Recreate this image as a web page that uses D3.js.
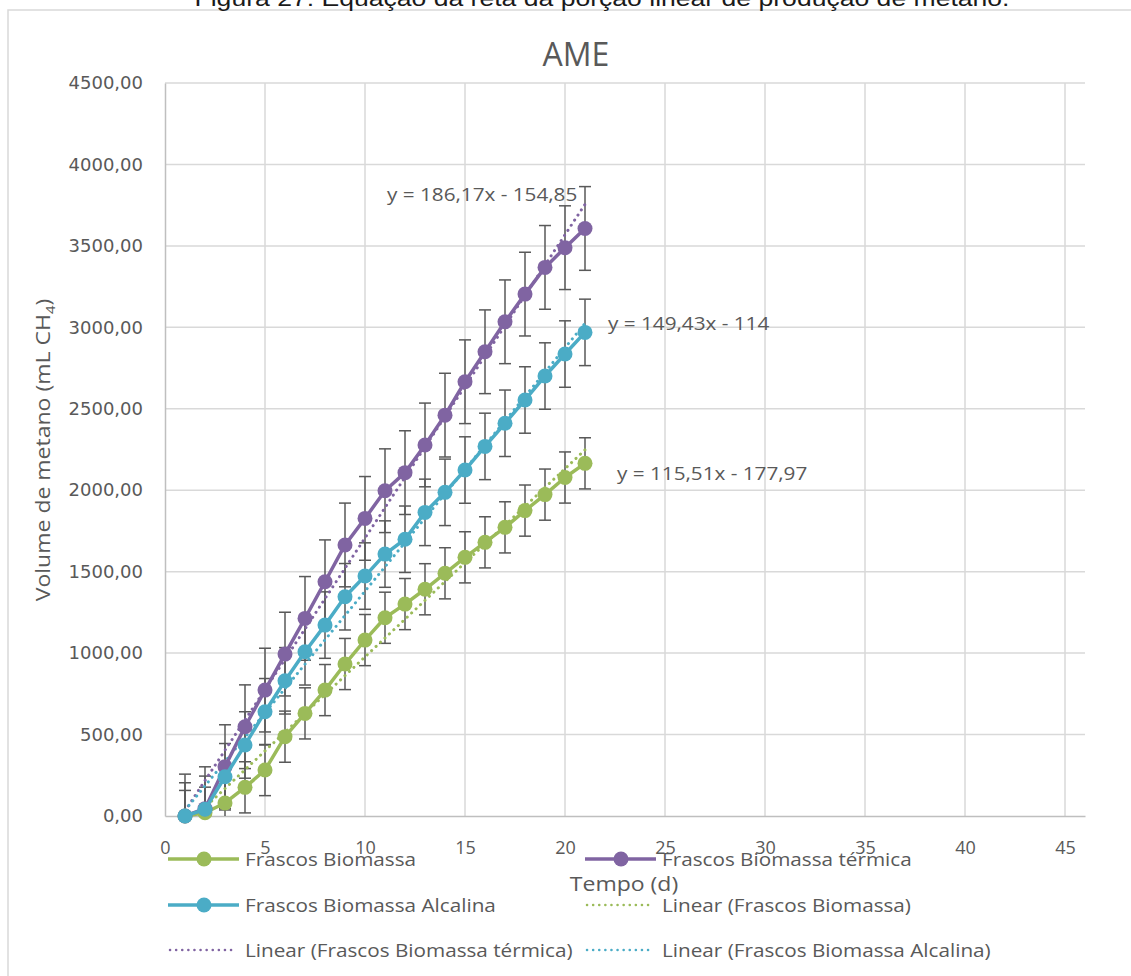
<!DOCTYPE html>
<html>
<head>
<meta charset="utf-8">
<script src="https://cdn.jsdelivr.net/npm/d3@7"></script>
<style>
  body { margin: 0; background: #ffffff; }
  svg { display: block; }
</style>
</head>
<body>
<svg id="chart" width="1131" height="976"></svg>
<script>
// ---- data ----
const dias = [1, 2, 3, 4, 5, 6, 7, 8, 9, 10, 11, 12, 13, 14, 15, 16, 17, 18, 19, 20, 21];
const frascosBiomassa = [0, 20, 80, 176, 282, 487, 630, 773, 933, 1080, 1217, 1301, 1392, 1490, 1588, 1680, 1772, 1875, 1973, 2078, 2165];
const frascosTermica = [0, 45, 303, 548, 773, 994, 1213, 1438, 1664, 1827, 1997, 2108, 2278, 2461, 2666, 2850, 3034, 3204, 3368, 3489, 3607];
const frascosAlcalina = [0, 41, 241, 436, 640, 830, 1008, 1172, 1346, 1473, 1608, 1699, 1864, 1987, 2124, 2269, 2411, 2554, 2701, 2836, 2969];
// standard error of each series (same bar on every point)
const erroBiomassa = 157;
const erroTermica = 257;
const erroAlcalina = 204;
// linear trend coefficients (y = a·x + b)
const tendBiomassa = [115.51, -177.97];
const tendTermica = [186.17, -154.85];
const tendAlcalina = [149.43, -114];
const xTicks = [0, 5, 10, 15, 20, 25, 30, 35, 40, 45];
const yTicks = [0, 500, 1000, 1500, 2000, 2500, 3000, 3500, 4000, 4500];
const nomesSeries = ["Frascos Biomassa", "Frascos Biomassa térmica", "Frascos Biomassa Alcalina"];

// ---- styling ----
const cores = ["#9BBB59", "#8064A2", "#4BACC6"];
const textColor = "#595959";
const bodyFont = "'Open Sans', 'Noto Sans', sans-serif";
const STRETCH = 1.15;

const series = [
  { nome: nomesSeries[0], valores: frascosBiomassa, erro: erroBiomassa, tend: tendBiomassa, cor: cores[0], eq: { x: 617, y: 480 } },
  { nome: nomesSeries[1], valores: frascosTermica, erro: erroTermica, tend: tendTermica, cor: cores[1], eq: { x: 387, y: 201 } },
  { nome: nomesSeries[2], valores: frascosAlcalina, erro: erroAlcalina, tend: tendAlcalina, cor: cores[2], eq: { x: 608, y: 330 } }
];

const ptBR = d3.formatLocale({ decimal: ",", thousands: ".", grouping: [3], currency: ["R$", ""] });
const fmtY = ptBR.format(".2f");
const fmtCoef = ptBR.format(".2~f");

const svg = d3.select("#chart");

function widen(sel, factor) {
  sel.each(function () {
    const w = this.getComputedTextLength();
    d3.select(this).attr("textLength", w * factor).attr("lengthAdjust", "spacingAndGlyphs");
  });
}

// ---- frame & caption ----
svg.append("rect")
  .attr("x", 8).attr("y", 10).attr("width", 1200).attr("height", 1000)
  .attr("fill", "#ffffff").attr("stroke", "#d9d9d9").attr("stroke-width", 1.5);

svg.append("text")
  .attr("x", 602).attr("y", 6)
  .attr("text-anchor", "middle")
  .attr("font-family", "'Liberation Sans', Arial, sans-serif")
  .attr("font-size", 22)
  .attr("fill", "#1a1a1a")
  .attr("textLength", 815).attr("lengthAdjust", "spacingAndGlyphs")
  .text("Figura 27: Equação da reta da porção linear de produção de metano.");

svg.append("text")
  .attr("x", 576).attr("y", 66)
  .attr("text-anchor", "middle")
  .attr("font-family", bodyFont)
  .attr("font-size", 32)
  .attr("fill", textColor)
  .text("AME");

// ---- scales ----
const x = d3.scaleLinear().domain([0, 46]).range([165, 1085]);
const y = d3.scaleLinear().domain([0, 4500]).range([816, 83]);

// ---- grid ----
const grid = svg.append("g");
grid.selectAll("line.h").data(yTicks.filter(d => d > 0)).join("line")
  .attr("x1", x(0)).attr("x2", x.range()[1])
  .attr("y1", d => y(d)).attr("y2", d => y(d))
  .attr("stroke", "#d9d9d9").attr("stroke-width", 1.5);
grid.selectAll("line.v").data(xTicks.filter(d => d > 0)).join("line")
  .attr("x1", d => x(d)).attr("x2", d => x(d))
  .attr("y1", y(0)).attr("y2", y(4500))
  .attr("stroke", "#d9d9d9").attr("stroke-width", 1.5);

// ---- axes ----
const yAxis = svg.append("g")
  .attr("transform", `translate(${x(0)},0)`)
  .call(d3.axisLeft(y).tickValues(yTicks).tickFormat(fmtY).tickSize(0).tickPadding(22));
yAxis.select(".domain").attr("stroke", "#bfbfbf").attr("stroke-width", 1.5);
yAxis.selectAll("text")
  .attr("font-family", "'DejaVu Sans', Verdana, sans-serif")
  .attr("font-size", 18).attr("fill", textColor);

const xAxis = svg.append("g")
  .attr("transform", `translate(0,${y(0)})`)
  .call(d3.axisBottom(x).tickValues(xTicks).tickFormat(d3.format("d")).tickSize(0).tickPadding(0));
xAxis.select(".domain").attr("stroke", "#bfbfbf").attr("stroke-width", 1.5);
xAxis.selectAll("text")
  .attr("y", 38).attr("dy", null)
  .attr("font-family", bodyFont)
  .attr("font-size", 18).attr("fill", textColor);

// axis titles
const yTitle = svg.append("text")
  .attr("transform", `translate(50,450) rotate(-90) scale(${STRETCH},1)`)
  .attr("text-anchor", "middle")
  .attr("font-family", bodyFont)
  .attr("font-size", 20)
  .attr("fill", textColor);
yTitle.append("tspan").text("Volume de metano (mL CH");
yTitle.append("tspan").attr("font-size", 13).attr("dy", 5).text("4");
yTitle.append("tspan").attr("dy", -5).text(")");

svg.append("text")
  .attr("x", 624).attr("y", 891)
  .attr("text-anchor", "middle")
  .attr("font-family", bodyFont)
  .attr("font-size", 20)
  .attr("fill", textColor)
  .text("Tempo (d)")
  .call(widen, STRETCH);

// ---- plot ----
svg.append("clipPath").attr("id", "plotClip")
  .append("rect")
  .attr("x", x(0)).attr("y", y(4500))
  .attr("width", x.range()[1] - x(0)).attr("height", y(0) - y(4500));

const clipped = svg.append("g").attr("clip-path", "url(#plotClip)");

// error bars
series.forEach(s => {
  const g = clipped.append("g").attr("stroke", "#595959").attr("stroke-width", 1.5);
  dias.forEach((d, i) => {
    const v = s.valores[i];
    const cx = x(d), top = y(v + s.erro), bot = y(v - s.erro);
    g.append("line").attr("x1", cx).attr("x2", cx).attr("y1", top).attr("y2", bot);
    g.append("line").attr("x1", cx - 6).attr("x2", cx + 6).attr("y1", top).attr("y2", top);
    g.append("line").attr("x1", cx - 6).attr("x2", cx + 6).attr("y1", bot).attr("y2", bot);
  });
});

// series lines and markers
const line = d3.line().x(d => x(d[0])).y(d => y(d[1]));
series.forEach(s => {
  const pts = dias.map((d, i) => [d, s.valores[i]]);
  svg.append("path").datum(pts)
    .attr("d", line)
    .attr("fill", "none").attr("stroke", s.cor).attr("stroke-width", 3.5)
    .attr("stroke-linejoin", "round");
  svg.append("g").selectAll("circle").data(pts).join("circle")
    .attr("cx", d => x(d[0])).attr("cy", d => y(d[1])).attr("r", 7.5)
    .attr("fill", s.cor);
});

// linear trendlines
series.forEach(s => {
  const [a, b] = s.tend;
  const x0 = dias[0], x1 = dias[dias.length - 1];
  clipped.append("line")
    .attr("x1", x(x0)).attr("y1", y(a * x0 + b))
    .attr("x2", x(x1)).attr("y2", y(a * x1 + b))
    .attr("stroke", s.cor).attr("stroke-width", 3)
    .attr("stroke-linecap", "round")
    .attr("stroke-dasharray", "0.1 6");
});

// trend equations
series.forEach(s => {
  const [a, b] = s.tend;
  svg.append("text")
    .attr("x", s.eq.x).attr("y", s.eq.y)
    .attr("font-family", bodyFont).attr("font-size", 18)
    .attr("fill", textColor)
    .text(`y = ${fmtCoef(a)}x ${b < 0 ? "-" : "+"} ${fmtCoef(Math.abs(b))}`)
    .call(widen, STRETCH);
});

// ---- legend ----
const legendItems = [
  { s: 0, tipo: "serie", col: 0, row: 0 },
  { s: 1, tipo: "serie", col: 1, row: 0 },
  { s: 2, tipo: "serie", col: 0, row: 1 },
  { s: 0, tipo: "linear", col: 1, row: 1 },
  { s: 1, tipo: "linear", col: 0, row: 2 },
  { s: 2, tipo: "linear", col: 1, row: 2 }
];
const colX = [168, 585];
const rowY = [859, 905, 950];
const legend = svg.append("g");
legendItems.forEach(it => {
  const s = series[it.s];
  const lx = colX[it.col], ly = rowY[it.row];
  if (it.tipo === "serie") {
    legend.append("line").attr("x1", lx).attr("x2", lx + 71).attr("y1", ly).attr("y2", ly)
      .attr("stroke", s.cor).attr("stroke-width", 3.5);
    legend.append("circle").attr("cx", lx + 36).attr("cy", ly).attr("r", 7.5).attr("fill", s.cor);
  } else {
    legend.append("line").attr("x1", lx + 2).attr("x2", lx + 68).attr("y1", ly).attr("y2", ly)
      .attr("stroke", s.cor).attr("stroke-width", 2.5)
      .attr("stroke-linecap", "round").attr("stroke-dasharray", "0.1 6");
  }
  legend.append("text")
    .attr("x", lx + 77).attr("y", ly + 7)
    .attr("font-family", bodyFont).attr("font-size", 18)
    .attr("fill", textColor)
    .text(it.tipo === "serie" ? s.nome : `Linear (${s.nome})`)
    .call(widen, STRETCH);
});
</script>
</body>
</html>
